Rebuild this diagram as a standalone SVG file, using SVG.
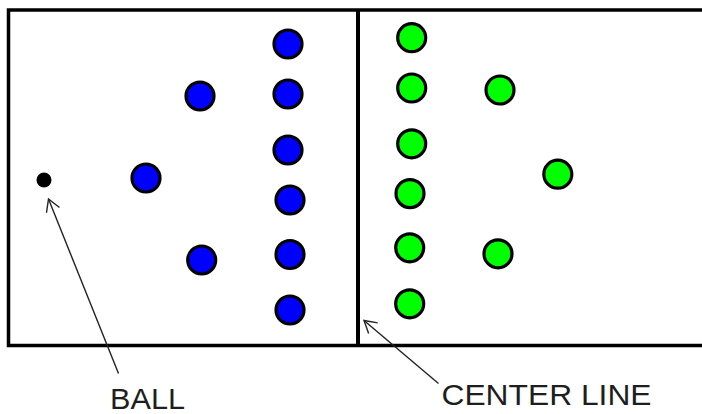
<svg xmlns="http://www.w3.org/2000/svg" width="702" height="414" viewBox="0 0 702 414">
  <style>
    .field { fill: #ffffff; stroke: #000000; stroke-width: 3.5; }
    .cline { stroke: #000000; stroke-width: 4; }
    .blue { fill: #0000ff; stroke: #000000; stroke-width: 3.2; }
    .green { fill: #00ff00; stroke: #000000; stroke-width: 3.2; }
    .ball { fill: #000000; }
    .arrow { fill: none; stroke: #222222; stroke-width: 1.4; }
    .label { font-family: "Liberation Sans", Arial, sans-serif; font-size: 30px; fill: #1e1e1e; }
  </style>
  <defs>
    <marker id="openArrow" markerUnits="userSpaceOnUse" markerWidth="20" markerHeight="20" refX="0" refY="0" orient="auto" overflow="visible">
      <path d="M -12,-7 L 0,0 L -12,7" fill="none" stroke="#222222" stroke-width="1.4"/>
    </marker>
  </defs>
  <rect width="702" height="414" fill="#ffffff"/>
  <g id="field">
    <rect class="field" x="8.5" y="10" width="700" height="335.5"/>
    <line class="cline" x1="358" y1="10" x2="358" y2="345.5"/>
  </g>
  <g id="blue-team">
    <g id="blue1"><circle class="blue" cx="288" cy="44" r="14"/></g>
    <g id="blue2"><circle class="blue" cx="288" cy="94" r="14"/></g>
    <g id="blue3"><circle class="blue" cx="200" cy="96" r="14"/></g>
    <g id="blue4"><circle class="blue" cx="288" cy="150" r="14"/></g>
    <g id="blue5"><circle class="blue" cx="146" cy="178" r="14"/></g>
    <g id="blue6"><circle class="blue" cx="290" cy="200" r="14"/></g>
    <g id="blue7"><circle class="blue" cx="290" cy="254.5" r="14"/></g>
    <g id="blue8"><circle class="blue" cx="201.7" cy="260" r="14"/></g>
    <g id="blue9"><circle class="blue" cx="290" cy="310" r="14"/></g>
  </g>
  <g id="green-team">
    <g id="green1"><circle class="green" cx="411.7" cy="37.7" r="14"/></g>
    <g id="green2"><circle class="green" cx="411.7" cy="88" r="14"/></g>
    <g id="green3"><circle class="green" cx="500" cy="90" r="14"/></g>
    <g id="green4"><circle class="green" cx="411.7" cy="143.8" r="14"/></g>
    <g id="green5"><circle class="green" cx="557.8" cy="174.2" r="14"/></g>
    <g id="green6"><circle class="green" cx="410" cy="193.6" r="14"/></g>
    <g id="green7"><circle class="green" cx="409.7" cy="247.8" r="14"/></g>
    <g id="green8"><circle class="green" cx="498" cy="253.8" r="14"/></g>
    <g id="green9"><circle class="green" cx="409.7" cy="303.8" r="14"/></g>
  </g>
  <g id="ball"><circle class="ball" cx="44" cy="180" r="7.5"/></g>
  <g id="connectors">
    <line class="arrow" x1="118.5" y1="373.5" x2="48.5" y2="199" marker-end="url(#openArrow)"/>
    <line class="arrow" x1="438.5" y1="383.5" x2="364" y2="320.5" marker-end="url(#openArrow)"/>
  </g>
  <g id="label-ball"><text class="label" x="110" y="409" textLength="75" lengthAdjust="spacingAndGlyphs">BALL</text></g>
  <g id="label-center"><text class="label" x="441.5" y="405" textLength="210" lengthAdjust="spacingAndGlyphs">CENTER LINE</text></g>
</svg>
